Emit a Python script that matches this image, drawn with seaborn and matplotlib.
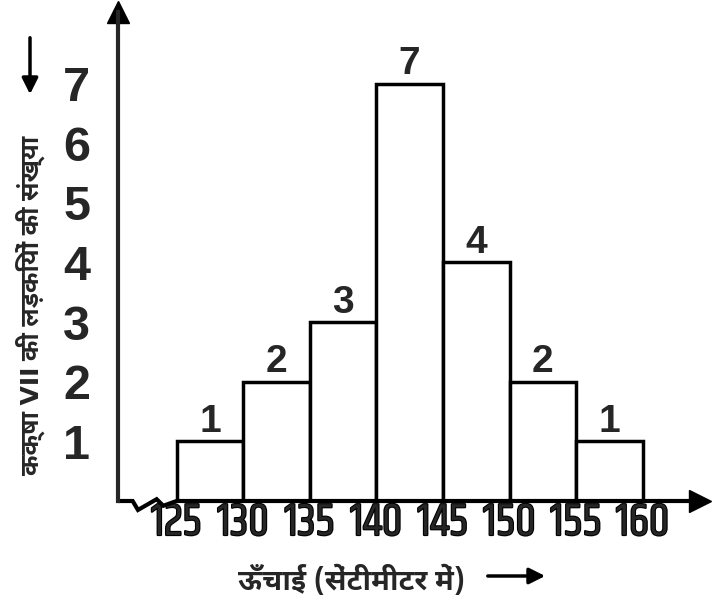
import matplotlib
matplotlib.use("Agg")
import matplotlib.pyplot as plt
import matplotlib.patheffects as pe
import seaborn as sns
from matplotlib import font_manager

# data
edges = [125, 130, 135, 140, 145, 150, 155, 160]
counts = [1, 2, 3, 7, 4, 2, 1]
mids = [(a + b) / 2 for a, b in zip(edges[:-1], edges[1:])]
y_ticks = [1, 2, 3, 4, 5, 6, 7]

x_title = "ऊँचाई (सेंटीमीटर में)"
y_title = "कक्षा VII की लड़कियों की संख्या"

sns.set_style("white")

fonts = font_manager.findSystemFonts()


def pick(prefixes):
    for p in prefixes:
        for f in sorted(fonts):
            if f.split("/")[-1].startswith(p):
                return f
    return None


deva = pick(["NotoSansDevanagari-Bold", "NotoSansDevanagariUI-Bold", "NotoSansDevanagari"])
cond = pick(["Khand-Regular", "Khand-Medium", "Khand"])
for f in (deva, cond):
    font_manager.fontManager.addfont(f)
deva_name = font_manager.FontProperties(fname=deva).get_name()
num_prop = font_manager.FontProperties(fname=cond)

plt.rcParams["font.family"] = ["Liberation Sans", "DejaVu Sans"]

fig = plt.figure(figsize=(7.13, 6.05), dpi=100)
ax = fig.add_axes([118 / 713, (605 - 501) / 605, (700 - 118) / 713, (501 - 12) / 605])

sns.histplot(x=mids, weights=counts, bins=edges, color="white",
             edgecolor="black", linewidth=2.5, alpha=1, ax=ax)
ax.bar_label(ax.containers[0], fontsize=28, fontweight="bold", padding=1)

ax.set_xlim(120.6, 164.3)
ax.set_ylim(0, 8.2)

for s in ["top", "right", "bottom"]:
    ax.spines[s].set_visible(False)
ax.spines["left"].set_linewidth(3)

# x axis line with break mark
ax.plot([120.6, 121.7, 122.1, 123.5, 124.0, 125, 164.3],
        [0, 0, -0.15, 0.03, -0.08, 0, 0],
        color="black", lw=3, clip_on=False, solid_joinstyle="miter")
ax.plot([1], [0], transform=ax.transAxes, marker=">", color="black",
        markersize=16, clip_on=False)
ax.plot([0], [1], transform=ax.transAxes, marker="^", color="black",
        markersize=16, clip_on=False)

ax.set_yticks(y_ticks)
ax.set_yticklabels([str(v) for v in y_ticks], fontsize=35, fontweight="bold")
ax.tick_params(axis="y", direction="inout", length=12, width=2, pad=14)

ax.set_xticks(edges)
ax.set_xticklabels([str(e) for e in edges])
for t in ax.get_xticklabels():
    t.set_fontproperties(num_prop)
    t.set_fontsize(33)
    # thicken the thin condensed digits
    t.set_path_effects([pe.withStroke(linewidth=1.6, foreground="black")])
ax.tick_params(axis="x", length=0, pad=0)

ax.set_xlabel("")
ax.set_ylabel("")

fig.text(352 / 713, 1 - 580 / 605, x_title, family=[deva_name, "DejaVu Sans"],
         fontsize=21, fontweight="bold", ha="center", va="center")
fig.text(30 / 713, 1 - 305 / 605, y_title, family=[deva_name, "DejaVu Sans"],
         fontsize=18, fontweight="bold", rotation=90, ha="center", va="center")

fig.add_artist(matplotlib.patches.FancyArrowPatch(
    (485 / 713, 1 - 576 / 605), (548 / 713, 1 - 576 / 605),
    transform=fig.transFigure, arrowstyle="-|>", mutation_scale=24,
    color="black", lw=2.5))
fig.add_artist(matplotlib.patches.FancyArrowPatch(
    (30 / 713, 1 - 35 / 605), (30 / 713, 1 - 97 / 605),
    transform=fig.transFigure, arrowstyle="-|>", mutation_scale=24,
    color="black", lw=2.5))

fig.savefig("out.png", dpi=100, facecolor="white")
